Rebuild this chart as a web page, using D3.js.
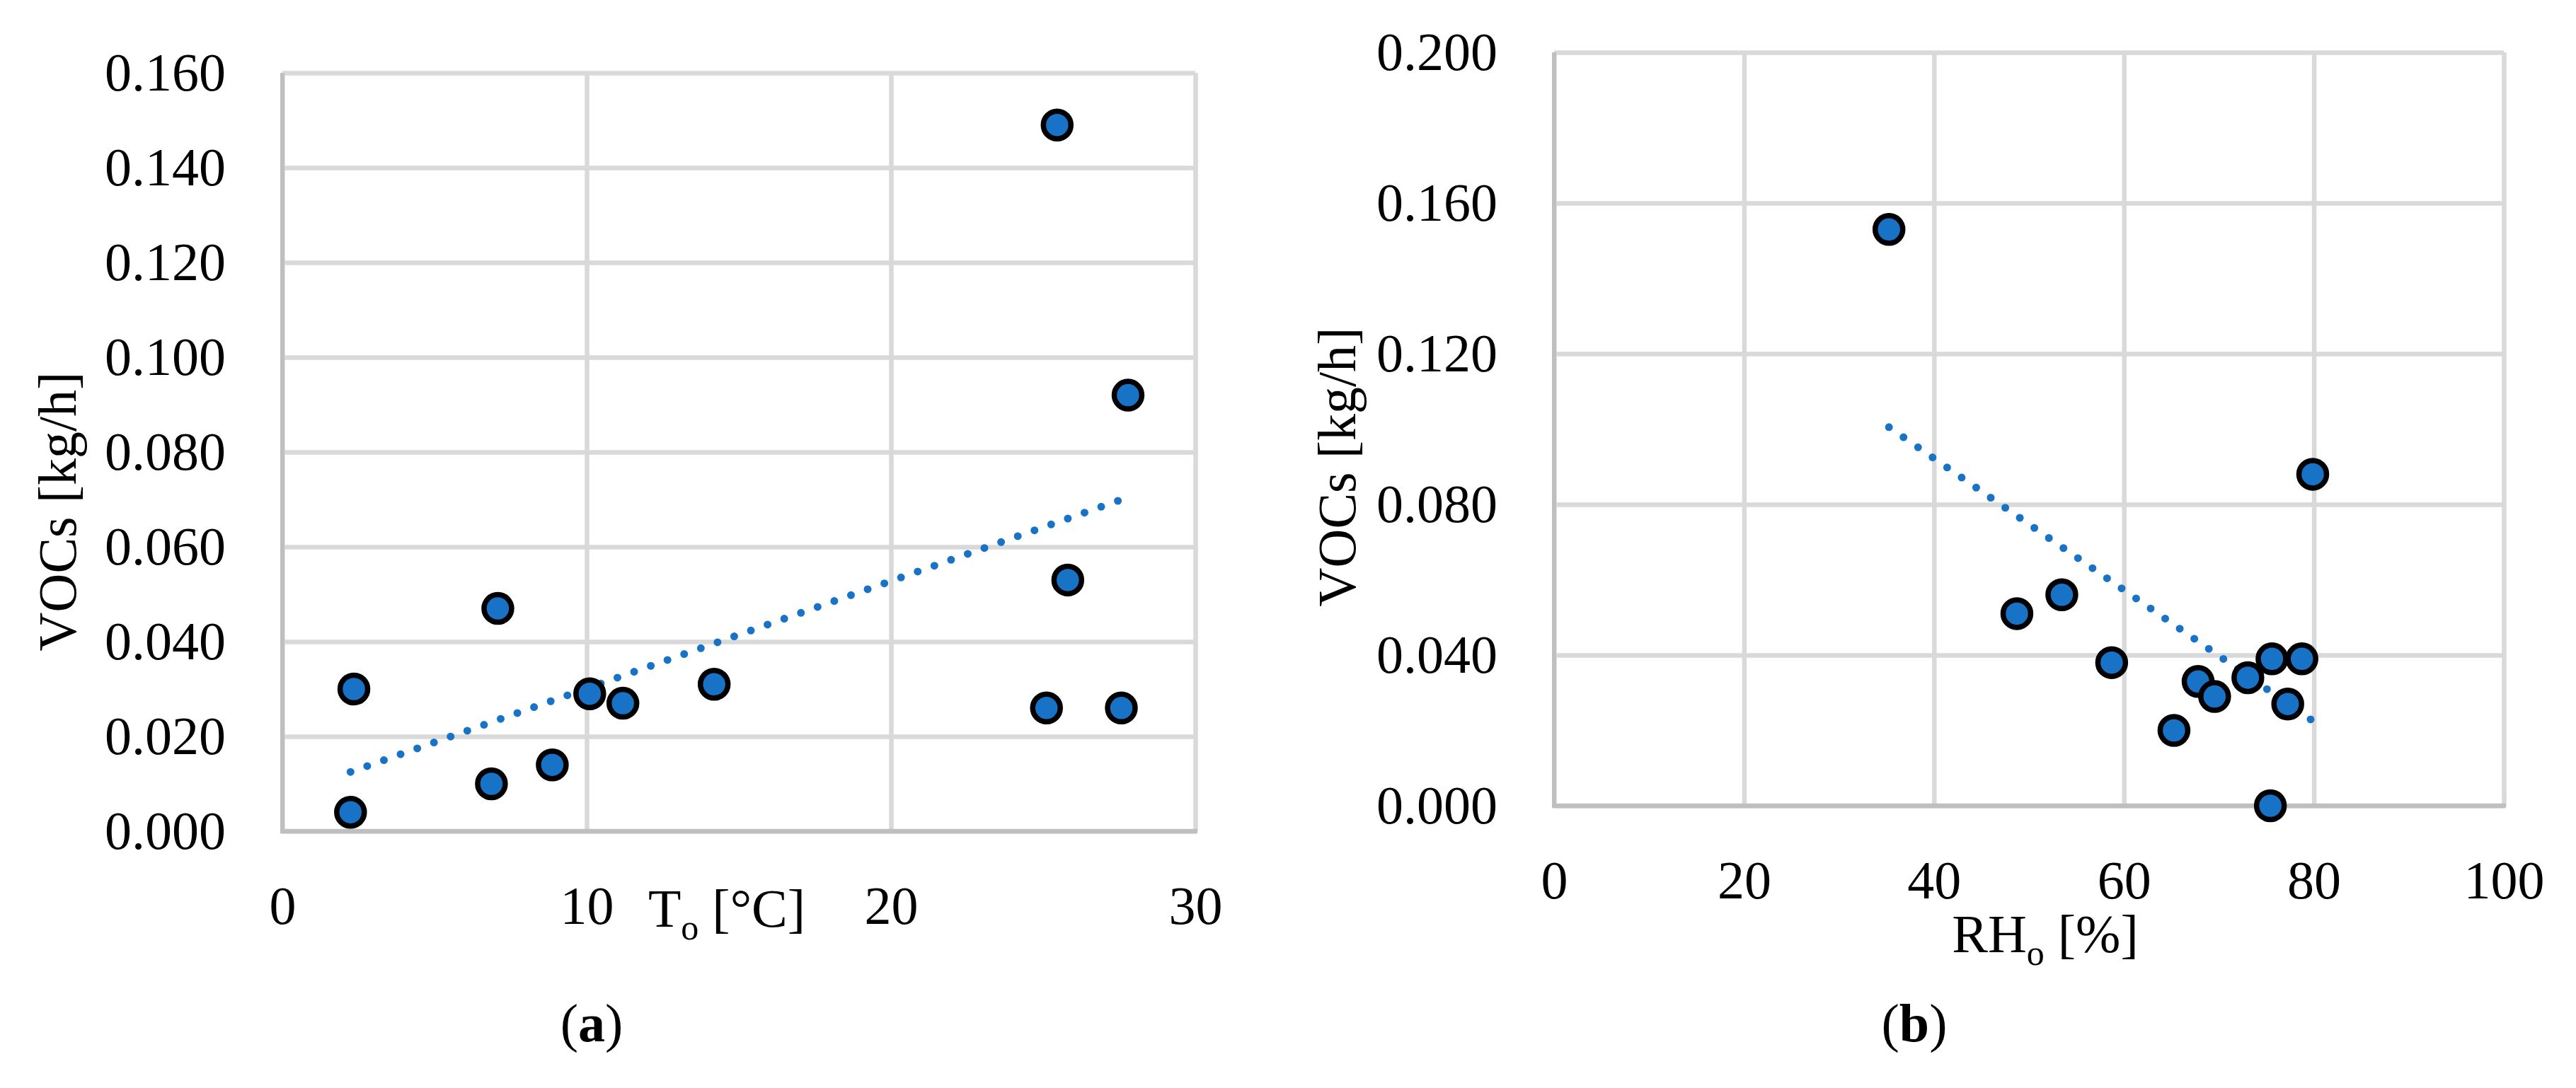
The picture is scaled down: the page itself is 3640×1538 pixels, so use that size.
<!DOCTYPE html>
<html>
<head>
<meta charset="utf-8">
<script src="https://cdn.jsdelivr.net/npm/d3@7"></script>
<style>
  html, body { margin: 0; padding: 0; background: #ffffff; }
  svg { display: block; }
  text { font-family: "Liberation Serif", "Times New Roman", serif; fill: #000; }
</style>
</head>
<body>
<svg id="chart" width="3640" height="1538"></svg>
<script>
// ---- Data ----
// Panel (a): outdoor temperature vs VOCs
const tempA = [2.35, 2.24, 7.08, 6.87, 8.87, 10.10, 11.19, 14.19, 25.46, 27.79, 25.81, 25.11, 27.57];
const vocA  = [0.030, 0.004, 0.047, 0.010, 0.014, 0.029, 0.027, 0.031, 0.149, 0.092, 0.053, 0.026, 0.026];
// Panel (b): outdoor relative humidity vs VOCs
const rhB   = [35.26, 48.73, 53.46, 58.71, 65.27, 67.81, 69.55, 73.05, 75.59, 78.74, 77.25, 75.42, 79.88];
const vocB  = [0.153, 0.051, 0.056, 0.038, 0.020, 0.033, 0.029, 0.034, 0.039, 0.039, 0.027, 0.000, 0.088];
// Ticks
const xTicksA = [0, 10, 20, 30];
const yTicksA = [0, 0.02, 0.04, 0.06, 0.08, 0.10, 0.12, 0.14, 0.16];
const xTicksB = [0, 20, 40, 60, 80, 100];
const yTicksB = [0, 0.04, 0.08, 0.12, 0.16, 0.20];

const svg = d3.select("#chart");
svg.append("rect").attr("width", 3640).attr("height", 1538).attr("fill", "#fff");

const BLUE = "#1872c6";
const GRID = "#d9d9d9";
const AXIS = "#bfbfbf";
const FS = 76;

function linReg(xs, ys) {
  const n = xs.length;
  const mx = d3.mean(xs), my = d3.mean(ys);
  let sxy = 0, sxx = 0;
  for (let i = 0; i < n; i++) { sxy += (xs[i]-mx)*(ys[i]-my); sxx += (xs[i]-mx)**2; }
  const b = sxy / sxx;
  return { slope: b, intercept: my - b*mx };
}

function panel(cfg) {
  const g = svg.append("g");
  const x = d3.scaleLinear().domain(cfg.xDomain).range([cfg.left, cfg.right]);
  const y = d3.scaleLinear().domain(cfg.yDomain).range([cfg.bottom, cfg.top]);
  const w = cfg.right - cfg.left, h = cfg.bottom - cfg.top;

  // gridlines + labels via d3 axes
  const ya = g.append("g").attr("transform", `translate(${cfg.left},0)`)
    .call(d3.axisLeft(y).tickValues(cfg.yTicks).tickSize(-w).tickPadding(80).tickFormat(d3.format(".3f")));
  const xa = g.append("g").attr("transform", `translate(0,${cfg.bottom})`)
    .call(d3.axisBottom(x).tickValues(cfg.xTicks).tickSize(-h).tickPadding(77).tickFormat(d3.format("d")));
  [ya, xa].forEach(a => {
    a.select(".domain").remove();
    a.selectAll(".tick line").attr("stroke", GRID).attr("stroke-width", 6.5);
    a.selectAll(".tick text").attr("font-size", FS).attr("font-family", "Liberation Serif").attr("fill", "#000");
  });

  // axis lines (left & bottom)
  g.append("line").attr("x1", cfg.left).attr("x2", cfg.left).attr("y1", cfg.top).attr("y2", cfg.bottom + 3)
    .attr("stroke", AXIS).attr("stroke-width", 6);
  g.append("line").attr("x1", cfg.left - 3).attr("x2", cfg.right + 3).attr("y1", cfg.bottom).attr("y2", cfg.bottom)
    .attr("stroke", AXIS).attr("stroke-width", 6.5);

  // linear trendline (least squares), from min x to max x
  const reg = linReg(cfg.xs, cfg.ys);
  const ext = d3.extent(cfg.xs);
  g.append("path")
    .attr("d", d3.line().x(d => x(d)).y(d => y(reg.intercept + reg.slope*d))(ext))
    .attr("fill", "none").attr("stroke", BLUE).attr("stroke-width", 11)
    .attr("stroke-linecap", "round").attr("stroke-dasharray", "0 25");

  // markers
  g.selectAll("circle.pt").data(cfg.xs.map((v, i) => [v, cfg.ys[i]])).join("circle")
    .attr("class", "pt")
    .attr("cx", d => x(d[0])).attr("cy", d => y(d[1])).attr("r", 19.5)
    .attr("fill", BLUE).attr("stroke", "#000").attr("stroke-width", 7.5);

  // y-axis title
  g.append("text")
    .attr("transform", `translate(${cfg.yTitleX},${cfg.yTitleY}) rotate(-90)`)
    .attr("text-anchor", "middle").attr("font-size", FS)
    .text("VOCs [kg/h]");

  // x-axis title with subscript
  const xt = g.append("text").attr("x", cfg.xTitleX).attr("y", cfg.xTitleY)
    .attr("text-anchor", "middle").attr("font-size", FS);
  xt.append("tspan").text(cfg.xTitleMain);
  xt.append("tspan").attr("font-size", 50).attr("dy", 18).text("o");
  xt.append("tspan").attr("dy", -18).text(" " + cfg.xTitleUnit);

  // panel letter
  const pl = g.append("text").attr("x", cfg.letterX).attr("y", 1472)
    .attr("text-anchor", "middle").attr("font-size", FS);
  pl.append("tspan").text("(");
  pl.append("tspan").attr("font-weight", "bold").text(cfg.letter);
  pl.append("tspan").text(")");
}

panel({
  xs: tempA, ys: vocA,
  xDomain: [0, 30], yDomain: [0, 0.16],
  xTicks: xTicksA, yTicks: yTicksA,
  left: 399, right: 1689, top: 103, bottom: 1175,
  yTitleX: 107, yTitleY: 723,
  xTitleX: 1027, xTitleY: 1310, xTitleMain: "T", xTitleUnit: "[°C]",
  letterX: 836, letter: "a"
});

panel({
  xs: rhB, ys: vocB,
  xDomain: [0, 100], yDomain: [0, 0.20],
  xTicks: xTicksB, yTicks: yTicksB,
  left: 2196, right: 3538, top: 74, bottom: 1139,
  yTitleX: 1915, yTitleY: 660,
  xTitleX: 2890, xTitleY: 1346, xTitleMain: "RH", xTitleUnit: "[%]",
  letterX: 2705, letter: "b"
});
</script>
</body>
</html>
